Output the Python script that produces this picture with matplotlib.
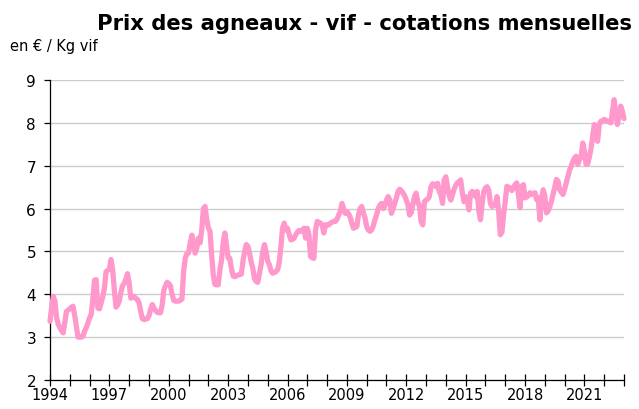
import matplotlib
matplotlib.use("Agg")
import matplotlib.pyplot as plt
import numpy as np

# Monthly live lamb prices (EUR / kg live weight), Jan 1994 - Jan 2023
p1994 = [3.37, 3.70, 3.95, 3.84, 3.45, 3.30, 3.22, 3.15, 3.10, 3.35, 3.60, 3.63]
p1995 = [3.66, 3.70, 3.72, 3.50, 3.25, 3.00, 3.00, 3.00, 3.02, 3.14, 3.22, 3.33]
p1996 = [3.45, 3.53, 3.90, 4.33, 4.34, 3.68, 3.66, 3.80, 3.95, 4.15, 4.53, 4.56]
p1997 = [4.59, 4.81, 4.57, 4.10, 3.70, 3.75, 3.84, 4.05, 4.20, 4.26, 4.35, 4.48]
p1998 = [4.26, 3.91, 3.93, 3.95, 3.90, 3.88, 3.80, 3.60, 3.43, 3.41, 3.42, 3.43]
p1999 = [3.50, 3.65, 3.76, 3.68, 3.62, 3.58, 3.57, 3.57, 3.75, 4.10, 4.20, 4.28]
p2000 = [4.25, 4.20, 4.00, 3.86, 3.84, 3.84, 3.84, 3.86, 3.89, 4.53, 4.84, 4.95]
p2001 = [4.96, 5.20, 5.38, 5.20, 4.96, 5.08, 5.31, 5.20, 5.50, 6.00, 6.05, 5.75]
p2002 = [5.55, 5.47, 4.92, 4.45, 4.23, 4.22, 4.22, 4.57, 4.80, 5.20, 5.43, 5.15]
p2003 = [4.85, 4.84, 4.60, 4.43, 4.41, 4.43, 4.45, 4.46, 4.47, 4.77, 5.00, 5.16]
p2004 = [5.12, 4.96, 4.75, 4.60, 4.36, 4.30, 4.28, 4.49, 4.70, 5.00, 5.16, 5.00]
p2005 = [4.77, 4.69, 4.55, 4.49, 4.51, 4.53, 4.57, 4.75, 5.12, 5.55, 5.66, 5.50]
p2006 = [5.54, 5.40, 5.27, 5.28, 5.31, 5.39, 5.45, 5.49, 5.47, 5.50, 5.54, 5.31]
p2007 = [5.54, 5.39, 4.88, 4.85, 4.84, 5.50, 5.70, 5.68, 5.66, 5.62, 5.43, 5.62]
p2008 = [5.62, 5.62, 5.66, 5.68, 5.70, 5.70, 5.75, 5.85, 5.93, 6.12, 6.00, 5.89]
p2009 = [5.93, 5.88, 5.80, 5.66, 5.54, 5.56, 5.58, 5.85, 6.00, 6.05, 5.90, 5.78]
p2010 = [5.58, 5.50, 5.47, 5.50, 5.60, 5.74, 5.85, 6.00, 6.08, 6.12, 6.00, 6.06]
p2011 = [6.20, 6.28, 6.20, 5.89, 6.00, 6.12, 6.25, 6.40, 6.45, 6.42, 6.36, 6.30]
p2012 = [6.20, 6.09, 5.85, 5.90, 6.10, 6.28, 6.36, 6.16, 6.05, 5.70, 5.62, 6.16]
p2013 = [6.20, 6.22, 6.28, 6.51, 6.58, 6.55, 6.51, 6.59, 6.40, 6.32, 6.12, 6.67]
p2014 = [6.74, 6.50, 6.30, 6.20, 6.32, 6.45, 6.55, 6.60, 6.63, 6.67, 6.36, 6.16]
p2015 = [6.28, 6.20, 5.97, 6.36, 6.40, 6.35, 6.28, 6.40, 5.93, 5.74, 6.12, 6.40]
p2016 = [6.48, 6.51, 6.43, 6.12, 6.05, 6.07, 6.09, 6.28, 5.95, 5.39, 5.45, 5.85]
p2017 = [6.17, 6.52, 6.50, 6.48, 6.42, 6.50, 6.56, 6.60, 6.33, 6.02, 6.52, 6.56]
p2018 = [6.25, 6.27, 6.30, 6.37, 6.33, 6.35, 6.37, 6.21, 6.25, 5.74, 6.21, 6.44]
p2019 = [6.30, 5.90, 5.94, 6.05, 6.17, 6.33, 6.50, 6.68, 6.64, 6.44, 6.38, 6.33]
p2020 = [6.45, 6.60, 6.75, 6.90, 6.99, 7.10, 7.18, 7.22, 7.03, 7.14, 7.20, 7.53]
p2021 = [7.34, 7.03, 7.04, 7.20, 7.40, 7.69, 7.96, 7.73, 7.57, 7.96, 8.04, 8.04]
p2022 = [8.08, 8.06, 8.04, 8.02, 8.00, 8.27, 8.54, 8.19, 7.96, 8.16, 8.39, 8.27]
p2023 = [8.10]

year_labels = ["1994", "1997", "2000", "2003", "2006", "2009", "2012", "2015", "2018", "2021"]
y_ticks = [2, 3, 4, 5, 6, 7, 8, 9]

title = "Prix des agneaux - vif - cotations mensuelles"
unit_label = "en \u20ac / Kg vif"

prices = np.array(p1994 + p1995 + p1996 + p1997 + p1998 + p1999 + p2000 + p2001 +
                  p2002 + p2003 + p2004 + p2005 + p2006 + p2007 + p2008 + p2009 +
                  p2010 + p2011 + p2012 + p2013 + p2014 + p2015 + p2016 + p2017 +
                  p2018 + p2019 + p2020 + p2021 + p2022 + p2023)
months = np.arange(len(prices))

plt.rcParams['font.family'] = ['DejaVu Sans']

W, H = 639, 410
fig = plt.figure(figsize=(W / 100, H / 100), dpi=100)
ax = fig.add_axes([50 / W, 29 / H, 574 / W, 300 / H])

ax.plot(months, prices, color="#FF99CC", linewidth=3.8,
        solid_joinstyle="round", solid_capstyle="round", zorder=3, clip_on=False)

ax.set_xlim(0, 348)
ax.set_ylim(2, 9)
ax.set_yticks(y_ticks)
ax.set_yticklabels([str(v) for v in y_ticks], fontsize=11)
ax.set_xticks(np.arange(0, 36 * len(year_labels), 36))
ax.set_xticklabels(year_labels, fontsize=10.5)
ax.set_xticks([m for m in range(0, 349, 12) if m % 36 != 0], minor=True)

ax.grid(axis="y", color="#CCCCCC", linewidth=1.0, zorder=0)
ax.set_axisbelow(True)
for s in ("top", "right"):
    ax.spines[s].set_visible(False)
ax.spines["left"].set_color("black")
ax.spines["bottom"].set_color("black")
ax.spines["left"].set_linewidth(0.9)
ax.spines["bottom"].set_linewidth(0.9)

ax.tick_params(axis="y", direction="out", length=4, width=0.9, pad=6)
ax.tick_params(axis="x", which="major", direction="inout", length=8, width=0.9, pad=1)
ax.tick_params(axis="x", which="minor", direction="inout", length=8, width=0.9)

fig.text(632 / W, 1 - 24 / H, title, ha="right", va="center",
         fontsize=15.2, fontweight="bold")
fig.text(10 / W, 1 - 47 / H, unit_label, ha="left", va="center", fontsize=10.5)

fig.savefig("out.png", dpi=100)
